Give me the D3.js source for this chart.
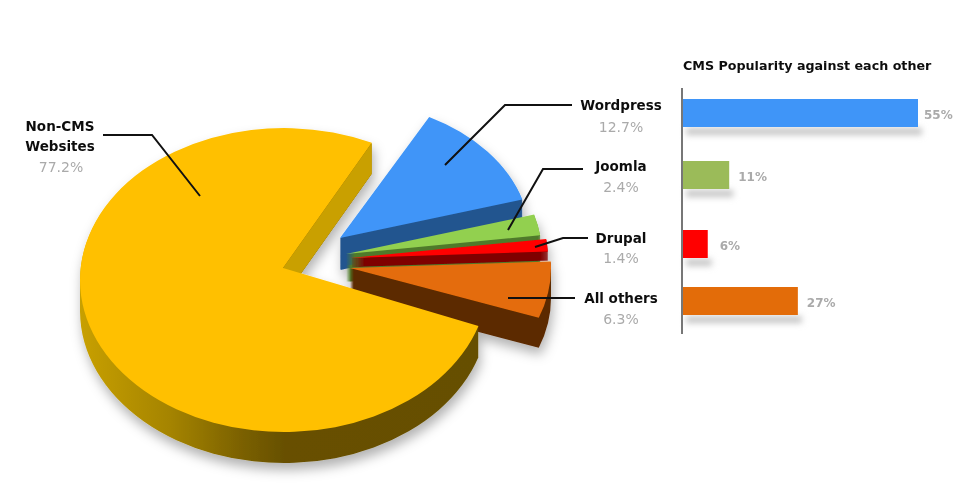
<!DOCTYPE html>
<html>
<head>
<meta charset="utf-8">
<script src="https://cdn.jsdelivr.net/npm/d3@7"></script>
<style>
  body { margin: 0; background: #fff; }
  text { font-family: "DejaVu Sans", sans-serif; }
</style>
</head>
<body>
<div id="graph"></div>
<script>
// pie data, clockwise starting from Wordpress
const categories = ["Wordpress", "Joomla", "Drupal", "All others", "Non-CMS Websites"];
const shares = [12.7, 2.4, 1.4, 6.3, 77.2];

// bars
const barCategories = ["Wordpress", "Joomla", "Drupal", "All others"];
const barValues = [55, 11, 6, 27];

const width = 955, height = 500;
const startAngle = 28 * Math.PI / 180;

const topColors = { "Wordpress": "#3f95f8", "Joomla": "#92d050", "Drupal": "#ff0000", "All others": "#e46c0a", "Non-CMS Websites": "#ffc000" };
const wallColors = { "Wordpress": "#23558f", "Joomla": "#4f7a2b", "Drupal": "#7f0000", "All others": "#5c2a00", "Non-CMS Websites": "url(#yellowWall)" };
const barColors = { "Wordpress": "#3f95f8", "Joomla": "#9bbb59", "Drupal": "#ff0000", "All others": "#e36c09" };

// where every slice sits (exploded), its radii and thickness
const sliceLayout = {
  "Wordpress": { x: 340, y: 238, rx: 190, ry: 137, depth: 32 },
  "Joomla": { x: 346, y: 254, rx: 196, ry: 141, depth: 28 },
  "Drupal": { x: 350, y: 258, rx: 198, ry: 143, depth: 9 },
  "All others": { x: 350, y: 268, rx: 201, ry: 145, depth: 30 },
  // the big slice: apex sits above the ellipse centre, slice turned a little
  "Non-CMS Websites": { x: 284, y: 280, rx: 204, ry: 152, depth: 31, apexX: -1, apexY: -12, turn: -2.5, innerWall: "#c9a000" }
};

const leaders = {
  "Wordpress": [[445, 165], [505, 105], [572, 105]],
  "Joomla": [[508, 230], [543, 169], [583, 169]],
  "Drupal": [[535, 247], [563, 238], [588, 238]],
  "All others": [[508, 298], [575, 298]],
  "Non-CMS Websites": [[200, 196], [152, 135], [103, 135]]
};

const labels = {
  "Wordpress": { x: 621, lines: [["Wordpress", 110]], pct: 132 },
  "Joomla": { x: 621, lines: [["Joomla", 171]], pct: 192 },
  "Drupal": { x: 621, lines: [["Drupal", 243]], pct: 263 },
  "All others": { x: 621, lines: [["All others", 303]], pct: 324 },
  "Non-CMS Websites": { x: 60, lines: [["Non-CMS", 131], ["Websites", 151]], pct: 172 }
};

const svg = d3.select("#graph").append("svg")
    .attr("width", width)
    .attr("height", height)
    .style("display", "block");

const defs = svg.append("defs");

const grad = defs.append("linearGradient")
    .attr("id", "yellowWall")
    .attr("gradientUnits", "userSpaceOnUse")
    .attr("x1", -204).attr("x2", 204).attr("y1", 0).attr("y2", 0);
grad.selectAll("stop")
    .data([[0, "#c8a000"], [0.22, "#a58400"], [0.4, "#7a6000"], [0.5, "#675000"], [1, "#665000"]])
    .enter().append("stop")
    .attr("offset", d => d[0])
    .attr("stop-color", d => d[1]);

const pieShadow = defs.append("filter").attr("id", "pieShadow")
    .attr("x", "-20%").attr("y", "-20%").attr("width", "140%").attr("height", "140%");
pieShadow.append("feDropShadow")
    .attr("dx", 2).attr("dy", 7).attr("stdDeviation", 6)
    .attr("flood-color", "#000").attr("flood-opacity", 0.3);

defs.append("filter").attr("id", "barShadow")
    .attr("x", "-20%").attr("y", "-50%").attr("width", "140%").attr("height", "200%")
  .append("feGaussianBlur").attr("stdDeviation", 3);

// the reference is an upscaled bitmap, text is a bit soft
defs.append("filter").attr("id", "soft")
    .attr("x", "-10%").attr("y", "-20%").attr("width", "120%").attr("height", "140%")
  .append("feGaussianBlur").attr("stdDeviation", 0.45);

const pie = d3.pie()
    .sort(null)
    .value(d => d.share)
    .startAngle(startAngle)
    .endAngle(startAngle + 2 * Math.PI);

const slices = pie(categories.map((c, i) => ({ name: c, share: shares[i] })));

// wedge drawn on a circle of radius rx, squeezed to an ellipse by the group transform
function addWedge(p, d, l, dy) {
  const k = l.ry / l.rx;
  const turn = (l.turn || 0) * Math.PI / 180;
  const a0 = d.startAngle + turn - Math.PI / 2;
  const a1 = d.endAngle + turn - Math.PI / 2;
  const oy = dy / k;
  p.moveTo(l.apexX || 0, (l.apexY || 0) / k + oy);
  p.lineTo(l.rx * Math.cos(a0), l.rx * Math.sin(a0) + oy);
  p.arc(0, oy, l.rx, a0, a1);
  p.closePath();
}

const pieG = svg.append("g").attr("filter", "url(#pieShadow)");

const sliceG = pieG.selectAll("g")
    .data(slices)
    .enter().append("g")
    .attr("transform", d => {
      const l = sliceLayout[d.data.name];
      return "translate(" + l.x + "," + l.y + ") scale(1," + (l.ry / l.rx) + ")";
    });

sliceG.each(function(d) {
  const l = sliceLayout[d.data.name];
  const g = d3.select(this);
  const k = l.ry / l.rx;

  // thickness: same wedge repeated downwards, all in one path
  const wall = d3.path();
  d3.range(1, l.depth + 1).forEach(dy => addWedge(wall, d, l, dy));
  g.append("path")
      .attr("d", wall.toString())
      .attr("fill", wallColors[d.data.name]);

  // cut face of the big slice has its own flat colour
  if (l.innerWall) {
    const a = d.endAngle + l.turn * Math.PI / 180 - Math.PI / 2;
    const cx = l.rx * Math.cos(a), cy = l.rx * Math.sin(a);
    const ay = l.apexY / k, oy = l.depth / k;
    const face = d3.path();
    face.moveTo(l.apexX, ay);
    face.lineTo(cx, cy);
    face.lineTo(cx, cy + oy);
    face.lineTo(l.apexX, ay + oy);
    face.closePath();
    g.append("path").attr("d", face.toString()).attr("fill", l.innerWall);
  }

  const top = d3.path();
  addWedge(top, d, l, 0);
  g.append("path")
      .attr("d", top.toString())
      .attr("fill", topColors[d.data.name]);
});

// leader lines
const line = d3.line();
svg.append("g").selectAll("path")
    .data(categories)
    .enter().append("path")
    .attr("d", d => line(leaders[d]))
    .attr("fill", "none")
    .attr("stroke", "#111")
    .attr("stroke-width", 2);

// pie labels
const labelG = svg.append("g").attr("filter", "url(#soft)");
categories.forEach(function(c, i) {
  const l = labels[c];
  l.lines.forEach(function(t) {
    labelG.append("text")
        .attr("x", l.x).attr("y", t[1])
        .attr("text-anchor", "middle")
        .attr("font-size", 13.5)
        .attr("font-weight", "bold")
        .attr("fill", "#111")
        .text(t[0]);
  });
  labelG.append("text")
      .attr("x", l.x + (c === "Non-CMS Websites" ? 1 : 0)).attr("y", l.pct)
      .attr("text-anchor", "middle")
      .attr("font-size", 14)
      .attr("fill", "#aaa")
      .text(shares[i].toFixed(1) + "%");
});

// bar chart on the right
const x = d3.scaleLinear().domain([0, 55]).range([682, 918]);
const barH = 28;
const y = d3.scaleOrdinal().domain(barCategories).range([99, 161, 230, 287]);
const valueGap = d3.scaleOrdinal().domain(barCategories).range([6, 9, 12, 9]);

svg.append("g").attr("filter", "url(#barShadow)").selectAll("rect")
    .data(barCategories)
    .enter().append("rect")
    .attr("x", x(0) + 4)
    .attr("y", d => y(d) + barH + 1)
    .attr("width", (d, i) => x(barValues[i]) - x(0))
    .attr("height", 7)
    .attr("fill", "#c4c4c4");

svg.append("g").selectAll("rect")
    .data(barCategories)
    .enter().append("rect")
    .attr("x", x(0))
    .attr("y", d => y(d))
    .attr("width", (d, i) => x(barValues[i]) - x(0))
    .attr("height", barH)
    .attr("fill", d => barColors[d]);

svg.append("line")
    .attr("x1", x(0)).attr("x2", x(0))
    .attr("y1", 88).attr("y2", 334)
    .attr("stroke", "#777")
    .attr("stroke-width", 2);

const barText = svg.append("g").attr("filter", "url(#soft)");
barText.selectAll("text")
    .data(barCategories)
    .enter().append("text")
    .attr("x", (d, i) => x(barValues[i]) + valueGap(d))
    .attr("y", d => y(d) + 20)
    .attr("font-size", 12)
    .attr("font-weight", "bold")
    .attr("fill", "#aaa")
    .text((d, i) => barValues[i] + "%");

barText.append("text")
    .attr("x", 683).attr("y", 70)
    .attr("font-size", 12.7)
    .attr("font-weight", "bold")
    .attr("fill", "#111")
    .text("CMS Popularity against each other");
</script>
</body>
</html>
